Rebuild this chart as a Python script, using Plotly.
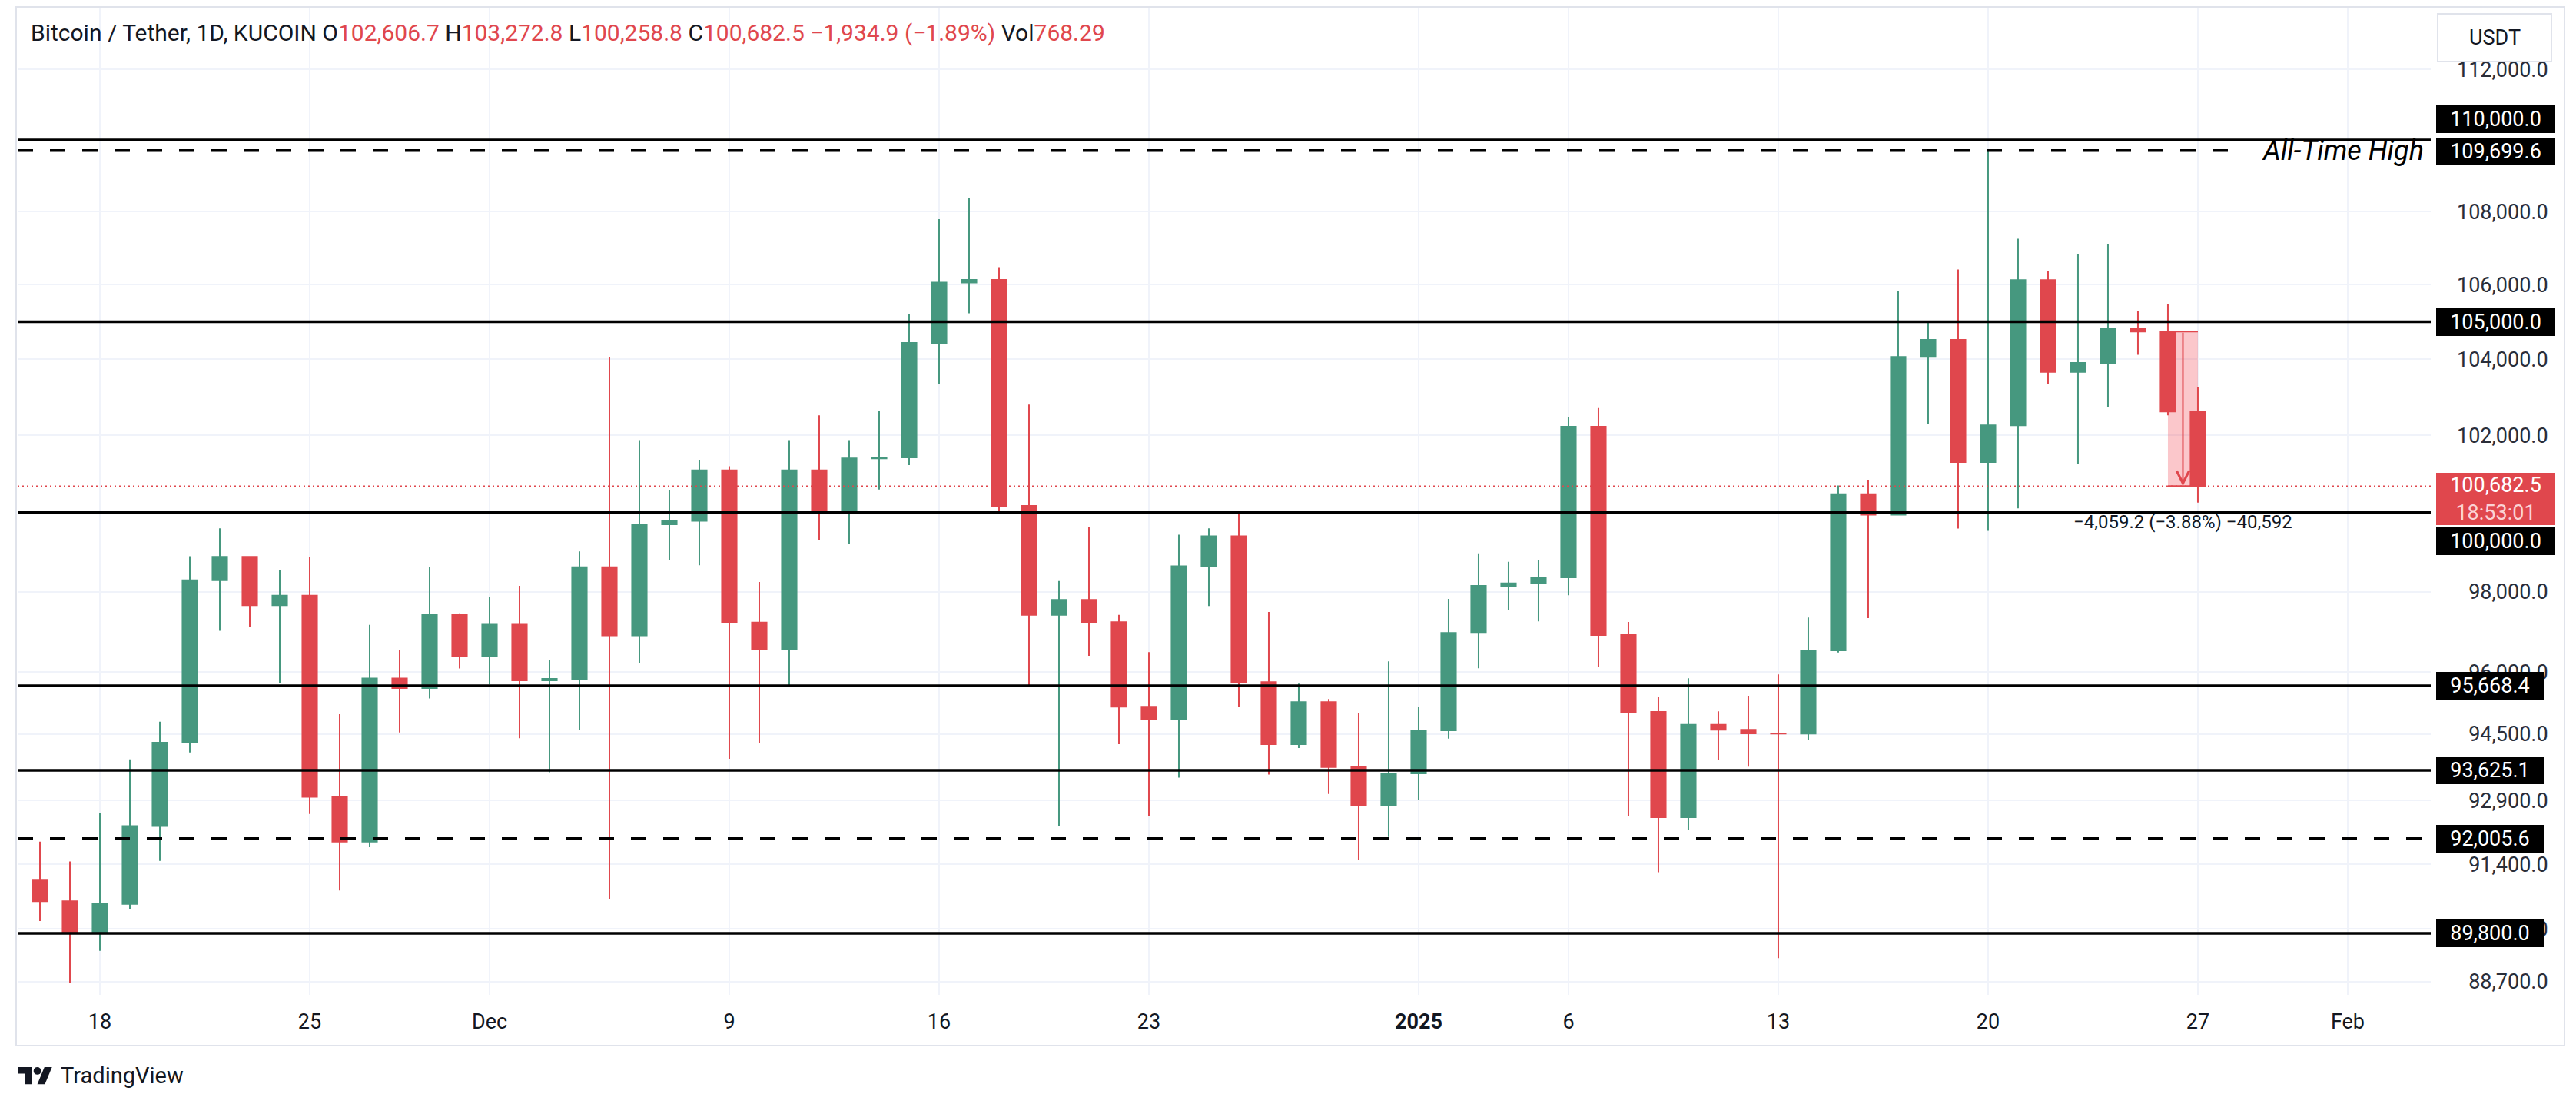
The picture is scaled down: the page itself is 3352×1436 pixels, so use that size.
import math
import plotly.graph_objects as go

# ---------------- data ----------------
dates = [
    "2024-11-15", "2024-11-16", "2024-11-17", "2024-11-18", "2024-11-19", "2024-11-20", "2024-11-21",
    "2024-11-22", "2024-11-23", "2024-11-24", "2024-11-25", "2024-11-26", "2024-11-27", "2024-11-28",
    "2024-11-29", "2024-11-30", "2024-12-01", "2024-12-02", "2024-12-03", "2024-12-04", "2024-12-05",
    "2024-12-06", "2024-12-07", "2024-12-08", "2024-12-09", "2024-12-10", "2024-12-11", "2024-12-12",
    "2024-12-13", "2024-12-14", "2024-12-15", "2024-12-16", "2024-12-17", "2024-12-18", "2024-12-19",
    "2024-12-20", "2024-12-21", "2024-12-22", "2024-12-23", "2024-12-24", "2024-12-25", "2024-12-26",
    "2024-12-27", "2024-12-28", "2024-12-29", "2024-12-30", "2024-12-31", "2025-01-01", "2025-01-02",
    "2025-01-03", "2025-01-04", "2025-01-05", "2025-01-06", "2025-01-07", "2025-01-08", "2025-01-09",
    "2025-01-10", "2025-01-11", "2025-01-12", "2025-01-13", "2025-01-14", "2025-01-15", "2025-01-16",
    "2025-01-17", "2025-01-18", "2025-01-19", "2025-01-20", "2025-01-21", "2025-01-22", "2025-01-23",
    "2025-01-24", "2025-01-25", "2025-01-26", "2025-01-27",
]
opens = [
    87300, 91040, 90540, 89825, 90480, 92300, 94286, 98288, 98875, 97659, 97900, 92990, 91930, 95846,
    95614, 97428, 96389, 97174, 95800, 95840, 98614, 96910, 99700, 99790, 101089, 97229, 96562, 101089,
    99980, 101396, 101420, 104436, 106058, 106133, 100175, 97420, 97793, 97240, 95160, 94850, 98640, 99400,
    95760, 94250, 95270, 93700, 92780, 93550, 94585, 96970, 98146, 98210, 98357, 102222, 96920, 95030,
    92509, 94721, 94600, 94511, 94505, 96540, 100473, 99945, 104060, 104517, 101303, 102255, 106130, 103666,
    103904, 104818, 104741.7, 102606.7,
]
highs = [
    91850, 91930, 91468, 92606, 93884, 94794, 98890, 99600, 98890, 98544, 98874, 94975, 97173, 96540,
    98617, 97460, 97860, 98146, 96300, 99012, 104053, 101873, 100588, 101364, 101190, 98244, 101870, 102518,
    101870, 102630, 105205, 107793, 108380, 106480, 102800, 98266, 99627, 97421, 96497, 99437, 99600, 99973,
    97490, 95720, 95347, 95000, 96270, 95147, 97818, 98966, 98750, 98796, 102476, 102708, 97244, 95393,
    95853, 95047, 95426, 95947, 97355, 100698, 100847, 105820, 104972, 106416, 109699.6, 107257, 106370, 106843,
    107110, 105280, 105490, 103272.8,
]
lows = [
    87100, 90086, 88662, 89400, 90357, 91480, 94053, 97024, 97129, 95746, 92582, 90790, 91800, 94535,
    95358, 96095, 95700, 94393, 93575, 94600, 90600, 96234, 98800, 98664, 93900, 94268, 95670, 99311,
    99200, 100590, 101220, 103333, 105230, 99976, 95650, 92296, 96405, 94250, 92531, 93450, 97640, 95147,
    93520, 94160, 93060, 91500, 92042, 92914, 94385, 96097, 97545, 97256, 97908, 96136, 92540, 91214,
    92218, 93878, 93709, 89234, 94362, 96484, 97340, 99930, 102285, 99594, 99535, 100111, 103352, 101258,
    102743, 104118, 102520, 100258.8,
]
closes = [
    91040, 90540, 89825, 90480, 92300, 94286, 98288, 98875, 97659, 97900, 92990, 91930, 95846, 95614,
    97428, 96389, 97174, 95800, 95840, 98614, 96910, 99700, 99790, 101089, 97229, 96562, 101089, 99980,
    101396, 101420, 104436, 106058, 106133, 100175, 97420, 97793, 97240, 95160, 94850, 98640, 99400, 95760,
    94250, 95270, 93700, 92780, 93550, 94585, 96970, 98146, 98210, 98357, 102222, 96920, 95030, 92509,
    94721, 94600, 94511, 94505, 96540, 100473, 99945, 104060, 104517, 101303, 102255, 106130, 103666, 103904,
    104818, 104741.7, 102617.4, 100682.5,
]
volume_last = 768.29
countdown_text = "18:53:01"

solid_levels = [110000.0, 105000.0, 100000.0, 95668.4, 93625.1, 89800.0]
dashed_levels = [109699.6, 92005.6]
ath_label = "All-Time High"

# 100,000 and 110,000 scale labels are fully hidden behind level boxes in the original
price_ticks = [88700, 89900, 91400, 92900, 94500, 96000, 98000, 102000, 104000, 106000, 108000, 112000]
time_tick_dates = ["2024-11-18", "2024-11-25", "2024-12-01", "2024-12-09", "2024-12-16", "2024-12-23",
                   "2025-01-01", "2025-01-06", "2025-01-13", "2025-01-20", "2025-01-27", "2025-02-01"]
time_tick_labels = ["18", "25", "Dec", "9", "16", "23", "<b>2025</b>", "6", "13", "20", "27", "Feb"]

# ---------------- styling / layout constants ----------------
UP = "#46987F"
DOWN = "#E0474D"
TXT = "#131722"
GRID = "#f0f3fa"
FONT = "Roboto"

W_FIG, H_FIG = 3352, 1436
L, R, T, B = 23, 3163, 10, 1294          # plot area in pixels
PW, PH = R - L, B - T


def PX(p):
    return (p - L) / PW


def PY(p):
    return (B - p) / PH


y_range = [math.log10(88400), math.log10(113782)]
x_range = ["2024-11-15 06:09", "2025-02-03 18:29"]

fig = go.Figure()
fig.add_trace(go.Candlestick(
    x=dates, open=opens, high=highs, low=lows, close=closes,
    increasing=dict(line=dict(color=UP, width=2), fillcolor=UP),
    decreasing=dict(line=dict(color=DOWN, width=2), fillcolor=DOWN),
    whiskerwidth=0, hoverinfo="skip", showlegend=False,
))

shapes = []
annotations = []

# widget frame
shapes.append(dict(type="rect", xref="paper", yref="paper", x0=PX(21), x1=PX(3337), y0=PY(1360), y1=PY(9),
                   line=dict(color="#e0e3eb", width=2), fillcolor="rgba(0,0,0,0)", layer="below"))

# price range tool (Jan 26 open -> current close)
range_top = opens[-2]
range_bot = closes[-1]
shapes.append(dict(type="rect", xref="x", yref="y", x0=dates[-2], x1=dates[-1], y0=range_bot, y1=range_top,
                   fillcolor="rgba(242,54,69,0.28)", line=dict(width=0), layer="between"))
for yv in (range_top, range_bot):
    shapes.append(dict(type="line", xref="x", yref="y", x0=dates[-2], x1=dates[-1], y0=yv, y1=yv,
                       line=dict(color=DOWN, width=2), layer="between"))

# horizontal levels
LW = 3.5
for lv in solid_levels:
    shapes.append(dict(type="line", xref="paper", yref="y", x0=0, x1=1, y0=lv, y1=lv,
                       line=dict(color="#000000", width=LW), layer="above"))
shapes.append(dict(type="line", xref="paper", yref="y", x0=0, x1=PX(2915), y0=dashed_levels[0], y1=dashed_levels[0],
                   line=dict(color="#000000", width=LW, dash="20px,22px"), layer="above"))
shapes.append(dict(type="line", xref="paper", yref="y", x0=0, x1=1, y0=dashed_levels[1], y1=dashed_levels[1],
                   line=dict(color="#000000", width=LW, dash="20px,22px"), layer="above"))

# current price dotted line
shapes.append(dict(type="line", xref="paper", yref="y", x0=0, x1=1, y0=closes[-1], y1=closes[-1],
                   line=dict(color=DOWN, width=1.5, dash="2px,4px"), layer="above"))

# USDT box
shapes.append(dict(type="rect", xref="paper", yref="paper", x0=PX(3172), x1=PX(3320), y0=PY(80), y1=PY(18),
                   line=dict(color="#e0e3eb", width=2), fillcolor="white", layer="above"))

# TradingView logo (TV mark)
def logo_pt(u, v):
    return PX(24 + 1.23 * u), PY(1388 + 1.23 * (v - 4))


def logo_path(points):
    parts = []
    for i, (u, v) in enumerate(points):
        x, y = logo_pt(u, v)
        parts.append(("M" if i == 0 else "L") + f"{x:.6f},{y:.6f}")
    return " ".join(parts) + " Z"


shapes.append(dict(type="path", xref="paper", yref="paper",
                   path=logo_path([(0, 4), (14, 4), (14, 22), (7, 22), (7, 11), (0, 11)]),
                   fillcolor=TXT, line=dict(width=0)))
shapes.append(dict(type="path", xref="paper", yref="paper",
                   path=logo_path([(20, 22), (27.5, 4), (35.5, 4), (28, 22)]),
                   fillcolor=TXT, line=dict(width=0)))
cx, cy = 24 + 1.23 * 20, 1388 + 1.23 * 4
r = 1.23 * 4
shapes.append(dict(type="circle", xref="paper", yref="paper", x0=PX(cx - r), x1=PX(cx + r),
                   y0=PY(cy + r), y1=PY(cy - r), fillcolor=TXT, line=dict(width=0)))

# ---------------- annotations ----------------
nb = "\u00a0"
MINUS = "\u2212"


def fmt_signed(v, fmt):
    s = format(abs(v), fmt)
    return (MINUS if v < 0 else "+") + s


chg = closes[-1] - closes[-2]
pct = chg / closes[-2] * 100
red = lambda s: f"<span style='color:{DOWN}'>{s}</span>"
header = (f"Bitcoin / Tether, 1D, KUCOIN{nb}O{red(f'{opens[-1]:,.1f}')}{nb}H{red(f'{highs[-1]:,.1f}')}"
          f"{nb}L{red(f'{lows[-1]:,.1f}')}{nb}C{red(f'{closes[-1]:,.1f}')}{nb}"
          f"{red(fmt_signed(chg, ',.1f') + nb + '(' + fmt_signed(pct, '.2f') + '%)')}{nb}Vol{red(f'{volume_last:,.2f}')}")
annotations.append(dict(xref="paper", yref="paper", x=PX(38), y=PY(43), xanchor="left", yanchor="middle",
                        text=header, showarrow=False, font=dict(family=FONT, size=30, color=TXT)))

annotations.append(dict(xref="paper", yref="paper", x=PX(3246), y=PY(49), xanchor="center", yanchor="middle",
                        text="USDT", showarrow=False, font=dict(family=FONT, size=27, color=TXT)))

# level label boxes on the price scale
box_shift = {110000.0: 27, 109699.6: -1, 100000.0: -37}
for lv in [110000.0, 109699.6, 105000.0, 100000.0, 95668.4, 93625.1, 92005.6, 89800.0]:
    label = f"{lv:,.1f}"
    annotations.append(dict(xref="paper", yref="y", x=PX(3170), y=math.log10(lv), xanchor="left", yanchor="middle",
                            yshift=box_shift.get(lv, 0), text=label, showarrow=False,
                            width=149 if len(label) >= 9 else 134, height=30, borderpad=3, borderwidth=0,
                            bgcolor="#000000", font=dict(family=FONT, size=27, color="white")))

# current price label
annotations.append(dict(xref="paper", yref="y", x=PX(3170), y=math.log10(closes[-1]), xanchor="left", yanchor="top",
                        yshift=17, showarrow=False, width=149, height=62, borderpad=3, borderwidth=0, bgcolor=DOWN,
                        text=f"{closes[-1]:,.1f}<br><span style='color:#fbd3d5'>{countdown_text}</span>",
                        font=dict(family=FONT, size=27, color="white")))

# All-Time High text
annotations.append(dict(xref="paper", yref="y", x=PX(3156), y=math.log10(dashed_levels[0]), xanchor="right",
                        yanchor="middle", text=f"<i>{ath_label}</i>", showarrow=False,
                        font=dict(family=FONT, size=36, color="#000000")))

# price range arrow and label
mid = "2025-01-26 12:00"
annotations.append(dict(xref="x", yref="y", x=mid, y=math.log10(range_bot), axref="x", ayref="y",
                        ax=mid, ay=math.log10(range_top), text="", showarrow=True, arrowhead=5,
                        arrowsize=1.6, arrowwidth=2, arrowcolor=DOWN, standoff=0))
diff = range_bot - range_top
rpct = diff / range_top * 100
ticks_cnt = round(diff / 0.1)
range_text = f"{fmt_signed(diff, ',.1f')} ({fmt_signed(rpct, '.2f')}%) {fmt_signed(ticks_cnt, ',d')}"
annotations.append(dict(xref="x", yref="y", x=mid, y=math.log10(range_bot), yshift=-47, xanchor="center",
                        yanchor="middle", text=range_text, showarrow=False,
                        font=dict(family=FONT, size=24, color=TXT)))

# TradingView wordmark
annotations.append(dict(xref="paper", yref="paper", x=PX(77), y=PY(1399), xanchor="left", yanchor="middle",
                        text="TradingView", showarrow=False, font=dict(family=FONT, size=29, color=TXT)))

# price-scale labels, right aligned with figure spaces
price_ticktext = [f"{v:,.1f}".rjust(9, "\u2007") for v in price_ticks]

fig.update_layout(
    width=W_FIG, height=H_FIG,
    margin=dict(l=L, r=W_FIG - R, t=T, b=H_FIG - B, pad=0),
    paper_bgcolor="white", plot_bgcolor="white",
    font=dict(family=FONT, color=TXT),
    showlegend=False,
    shapes=shapes, annotations=annotations,
    xaxis=dict(type="date", range=x_range, tickvals=time_tick_dates, ticktext=time_tick_labels,
               showgrid=True, gridcolor=GRID, gridwidth=2, zeroline=False, showline=False, ticks="",
               tickfont=dict(family=FONT, size=27, color=TXT), ticklabelstandoff=16,
               rangeslider=dict(visible=False)),
    yaxis=dict(type="log", range=y_range, side="right", tickvals=price_ticks, ticktext=price_ticktext,
               showgrid=True, gridcolor=GRID, gridwidth=2, zeroline=False, showline=False, ticks="",
               tickfont=dict(family=FONT, size=27, color="#2a2e39"), ticklabelstandoff=33),
)

fig.write_html("out.html", config={"displayModeBar": False})
